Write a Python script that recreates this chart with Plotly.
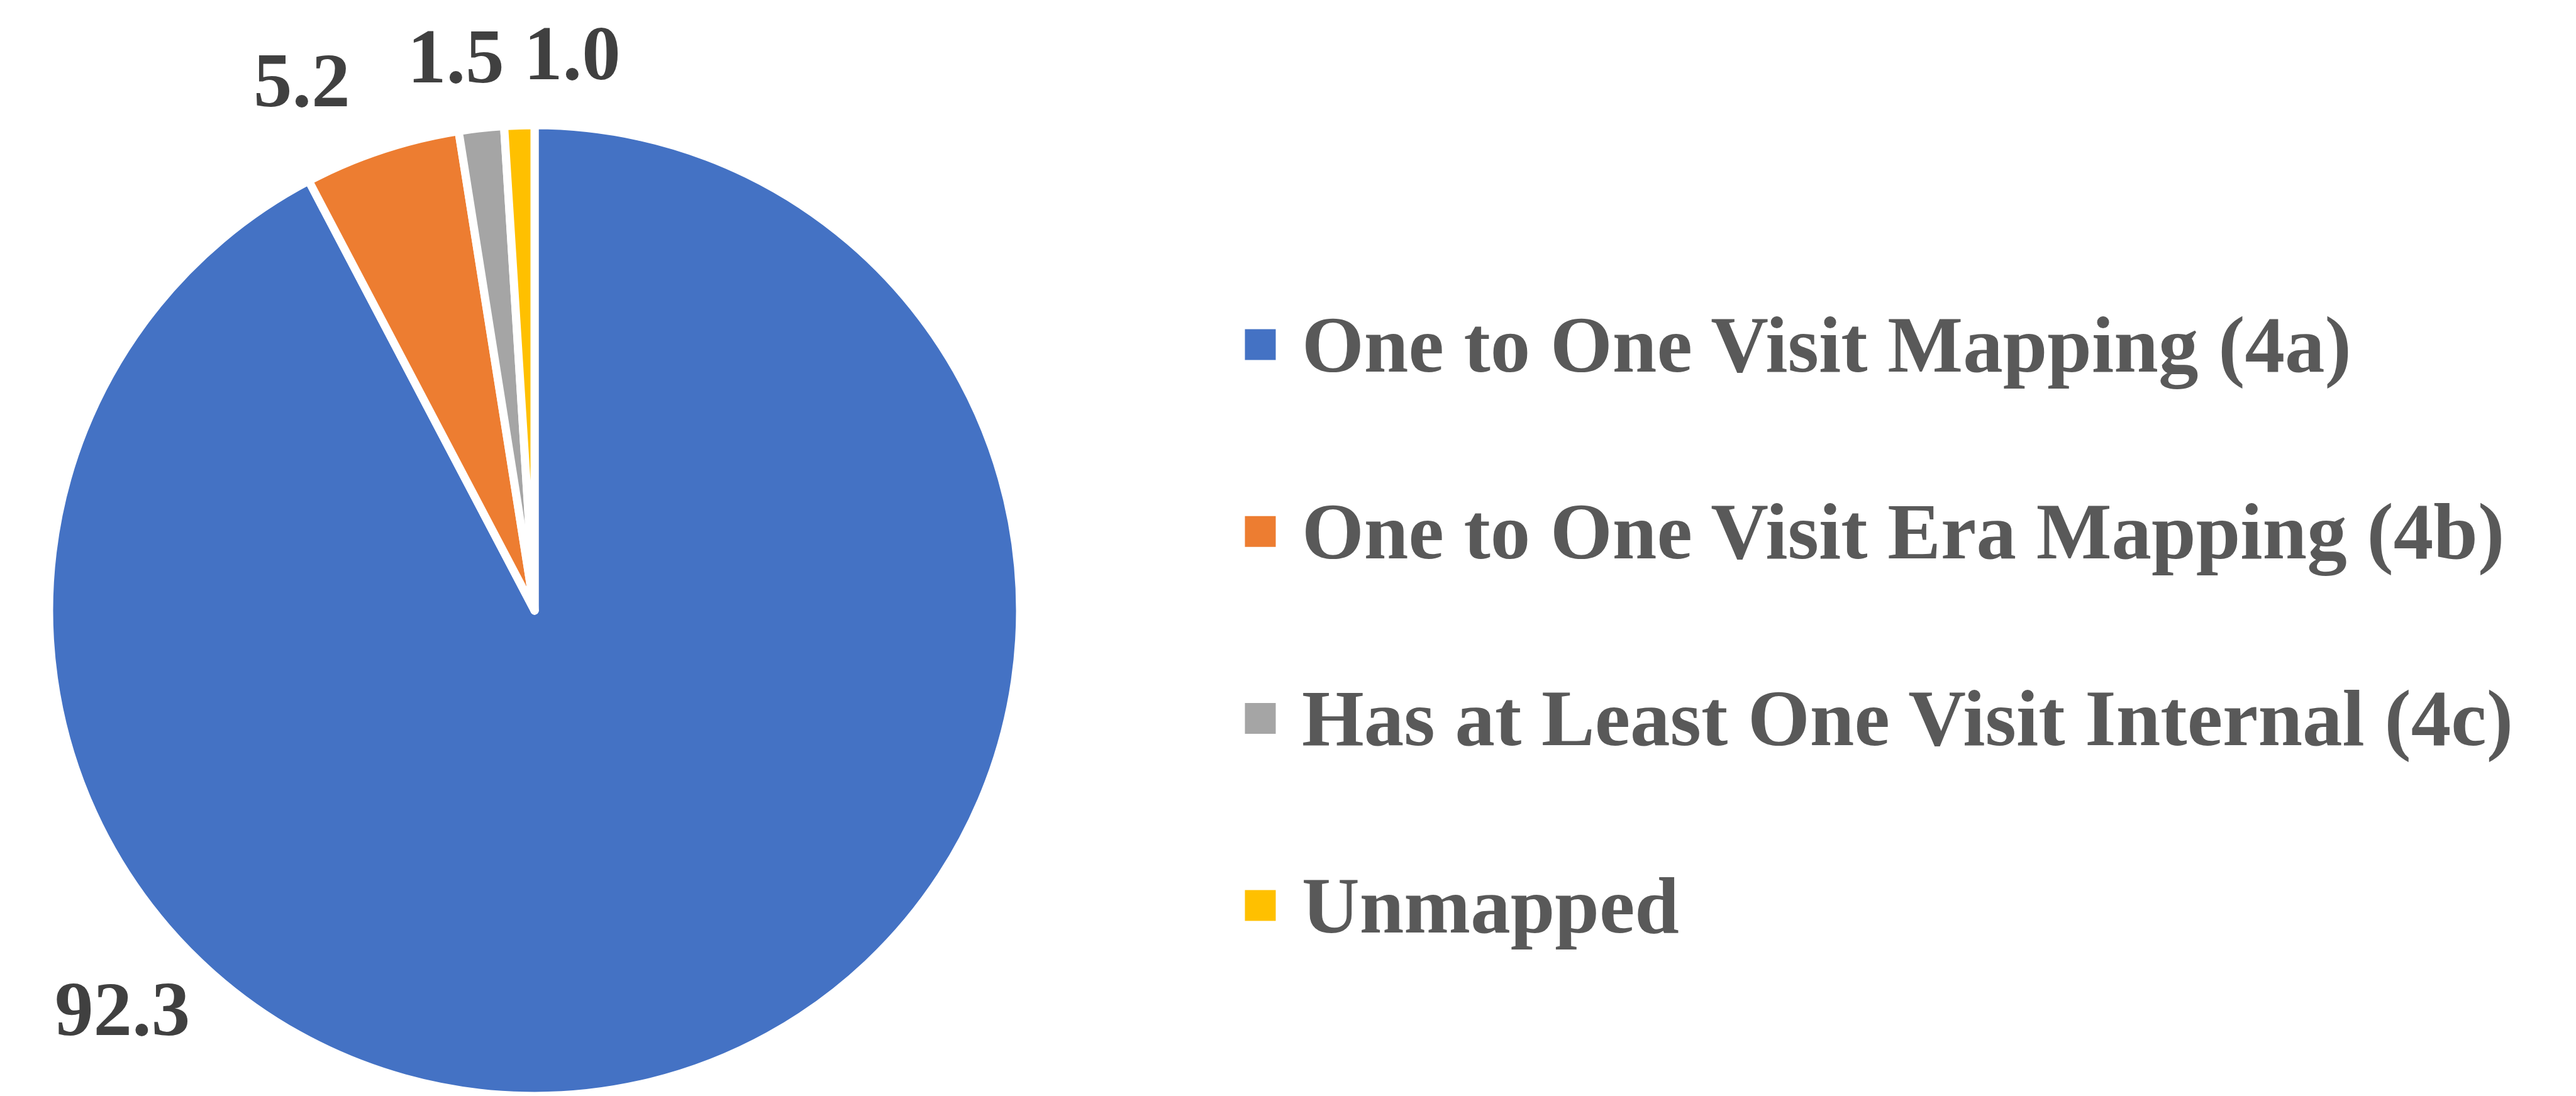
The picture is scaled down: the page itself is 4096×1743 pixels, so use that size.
import plotly.graph_objects as go

# ---- data ----
labels = [
    "One to One Visit Mapping (4a)",
    "One to One Visit Era Mapping (4b)",
    "Has at Least One Visit Internal (4c)",
    "Unmapped",
]
values = [92.3, 5.2, 1.5, 1.0]
value_text = ["92.3", "5.2", "1.5", "1.0"]

# ---- styles / positions ----
colors = ["#4472C4", "#ED7D31", "#A5A5A5", "#FFC000"]
W, H = 4096, 1743
cx, cy, r = 850, 971, 772          # pie centre / radius in px (from top-left)
label_pos = [(194, 1604), (480, 128), (725, 89), (910, 84)]  # label centres, px
leg_marker_x = 2004
leg_text_x = 2068
leg_y0 = 548
leg_step = 297.3
leg_half = 24.5
SERIF = "Liberation Serif, Times New Roman, serif"


def px(x):
    return x / W


def py(y):
    return 1 - y / H


fig = go.Figure(
    go.Pie(
        labels=labels,
        values=values,
        sort=False,
        direction="clockwise",
        rotation=0,
        textinfo="none",
        hoverinfo="label+value",
        showlegend=False,
        marker=dict(colors=colors, line=dict(color="white", width=13)),
        domain=dict(x=[px(cx - r), px(cx + r)], y=[py(cy + r), py(cy - r)]),
    )
)

annotations = []
shapes = []

# data labels
for txt, (lx, ly) in zip(value_text, label_pos):
    annotations.append(dict(
        x=px(lx), y=py(ly), xref="paper", yref="paper",
        text="<b>" + txt + "</b>", showarrow=False,
        xanchor="center", yanchor="middle",
        font=dict(family=SERIF, size=123, color="#404040"),
    ))

# legend
for i, (lab, col) in enumerate(zip(labels, colors)):
    yc = leg_y0 + i * leg_step
    shapes.append(dict(
        type="rect", xref="paper", yref="paper",
        x0=px(leg_marker_x - leg_half), x1=px(leg_marker_x + leg_half),
        y0=py(yc + leg_half), y1=py(yc - leg_half),
        fillcolor=col, line=dict(width=0),
    ))
    annotations.append(dict(
        x=px(leg_text_x), y=py(yc), xref="paper", yref="paper",
        text="<b>" + lab + "</b>", showarrow=False,
        xanchor="left", yanchor="middle",
        font=dict(family=SERIF, size=127, color="#595959"),
    ))

fig.update_layout(
    width=W, height=H,
    margin=dict(l=0, r=0, t=0, b=0),
    paper_bgcolor="white", plot_bgcolor="white",
    annotations=annotations, shapes=shapes,
    showlegend=False,
)

fig.write_html("out.html")
